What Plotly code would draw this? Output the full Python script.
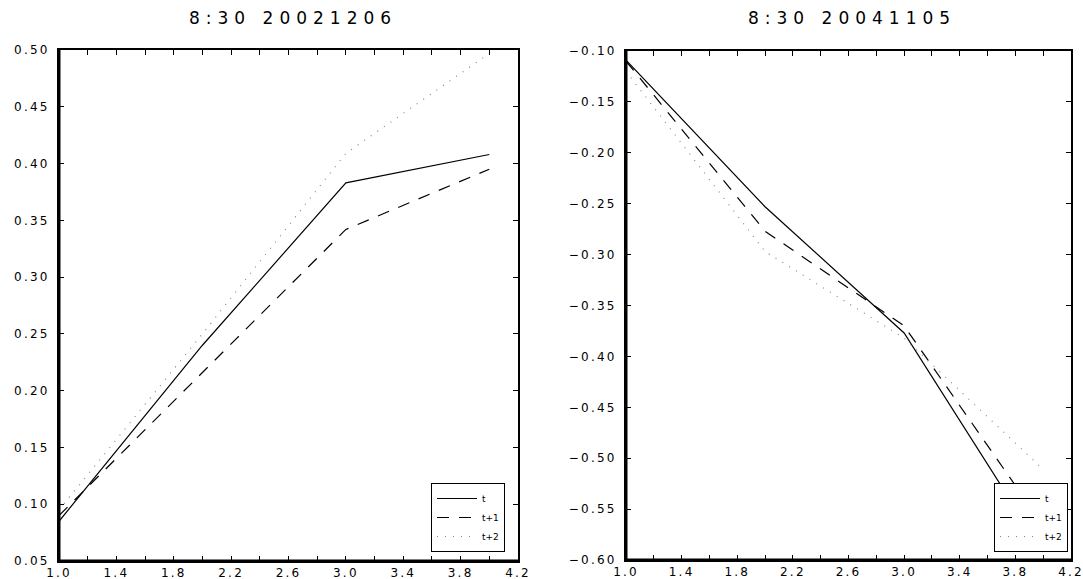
import plotly.graph_objects as go

W, H = 1083, 579

# ---- data ----
steps = [1, 2, 3, 4]
left_t = [0.085, 0.240, 0.383, 0.408]
left_t1 = [0.090, 0.216, 0.342, 0.395]
left_t2 = [0.095, 0.250, 0.409, 0.497]
right_t = [-0.109, -0.253, -0.377, -0.592]
right_t1 = [-0.110, -0.277, -0.370, -0.566]
right_t2 = [-0.120, -0.297, -0.382, -0.511]
series_names = ["t", "t+1", "t+2"]
titles = ["8:30 20021206", "8:30 20041105"]

x_tickvals = [1.0, 1.4, 1.8, 2.2, 2.6, 3.0, 3.4, 3.8, 4.2]
x_ticklabels = ["1.0", "1.4", "1.8", "2.2", "2.6", "3.0", "3.4", "3.8", "4.2"]
yl_tickvals = [0.05, 0.10, 0.15, 0.20, 0.25, 0.30, 0.35, 0.40, 0.45, 0.50]
yl_ticklabels = ["0.05", "0.10", "0.15", "0.20", "0.25", "0.30", "0.35", "0.40", "0.45", "0.50"]
yr_tickvals = [-0.60, -0.55, -0.50, -0.45, -0.40, -0.35, -0.30, -0.25, -0.20, -0.15, -0.10]
yr_ticklabels = ["\u22120.60", "\u22120.55", "\u22120.50", "\u22120.45", "\u22120.40", "\u22120.35",
                 "\u22120.30", "\u22120.25", "\u22120.20", "\u22120.15", "\u22120.10"]

styles = [
    dict(color="black", width=1.2, dash="solid"),
    dict(color="black", width=1.2, dash="12px,10px"),
    dict(color="#888888", width=1.2, dash="1px,7px"),
]

def spaced(s, sp):
    return f'<span style="letter-spacing:{sp}px">{s}</span>'

fig = go.Figure()
for vals, name, st in zip([left_t, left_t1, left_t2], series_names, styles):
    fig.add_trace(go.Scatter(x=steps, y=vals, mode="lines", name=name, line=st,
                             xaxis="x", yaxis="y", legend="legend"))
for vals, name, st in zip([right_t, right_t1, right_t2], series_names, styles):
    fig.add_trace(go.Scatter(x=steps, y=vals, mode="lines", name=name, line=st,
                             xaxis="x2", yaxis="y2", legend="legend2"))

font_family = "DejaVu Sans"
tickfont = dict(family=font_family, size=12, color="black")
TSP = 2.2

def px_x(p):
    return p / W

def px_y(p):
    return 1 - p / H

xdom1 = [px_x(59), px_x(518)]
xdom2 = [px_x(626), px_x(1071)]
ydom1 = [px_y(561), px_y(50)]
ydom2 = [px_y(560), px_y(51)]

common_x = dict(range=[1, 4.2], tickmode="array", tickvals=x_tickvals,
                ticktext=[spaced(t, TSP) for t in x_ticklabels],
                ticks="inside", ticklen=5, tickcolor="black", tickwidth=1,
                minor=dict(dtick=0.2, tick0=1.0, ticks="inside", ticklen=5, tickcolor="black"),
                showline=True, linecolor="black", linewidth=2, mirror="ticks",
                showgrid=False, zeroline=False, tickfont=tickfont, automargin=False,
                ticklabeloverflow="allow")
common_y = dict(tickmode="array",
                ticks="inside", ticklen=5, tickcolor="black", tickwidth=1,
                showline=True, linecolor="black", linewidth=2, mirror="ticks",
                showgrid=False, zeroline=False, tickfont=tickfont, automargin=False,
                ticklabelstandoff=5, ticklabeloverflow="allow")

legend_font = dict(family=font_family, size=9, color="black")

fig.update_layout(
    width=W, height=H,
    margin=dict(l=0, r=0, t=0, b=0),
    paper_bgcolor="white", plot_bgcolor="white",
    xaxis=dict(domain=xdom1, anchor="y", **common_x),
    yaxis=dict(domain=ydom1, anchor="x", range=[0.05, 0.50], tickvals=yl_tickvals,
               ticktext=[spaced(t, TSP) for t in yl_ticklabels], **common_y),
    xaxis2=dict(domain=xdom2, anchor="y2", **common_x),
    yaxis2=dict(domain=ydom2, anchor="x2", range=[-0.60, -0.10], tickvals=yr_tickvals,
                ticktext=[spaced(t, TSP) for t in yr_ticklabels], **common_y),
    legend=dict(x=px_x(505), xanchor="right", y=px_y(552), yanchor="bottom",
                bgcolor="white", bordercolor="black", borderwidth=1,
                font=legend_font, itemwidth=40, tracegroupgap=0),
    legend2=dict(x=px_x(1068), xanchor="right", y=px_y(552), yanchor="bottom",
                 bgcolor="white", bordercolor="black", borderwidth=1,
                 font=legend_font, itemwidth=40, tracegroupgap=0),
    showlegend=True,
)

for title, dom in zip(titles, [xdom1, xdom2]):
    fig.add_annotation(text=spaced(title, 6), x=(dom[0] + dom[1]) / 2 + 4 / W, y=px_y(18),
                       xref="paper", yref="paper", showarrow=False,
                       xanchor="center", yanchor="middle",
                       font=dict(family=font_family, size=17, color="black"))

# thicker left/bottom frame lines
for xa, ya in [("x", "y"), ("x2", "y2")]:
    fig.add_shape(type="line", xref=f"{xa} domain", yref=f"{ya} domain",
                  x0=0, x1=0, y0=0, y1=1, line=dict(color="black", width=3))
    fig.add_shape(type="line", xref=f"{xa} domain", yref=f"{ya} domain",
                  x0=0, x1=1, y0=0, y1=0, line=dict(color="black", width=3))

fig.write_html("out.html", config={"displayModeBar": False},
               post_script="document.body.style.margin='0';document.body.style.overflow='hidden';")
